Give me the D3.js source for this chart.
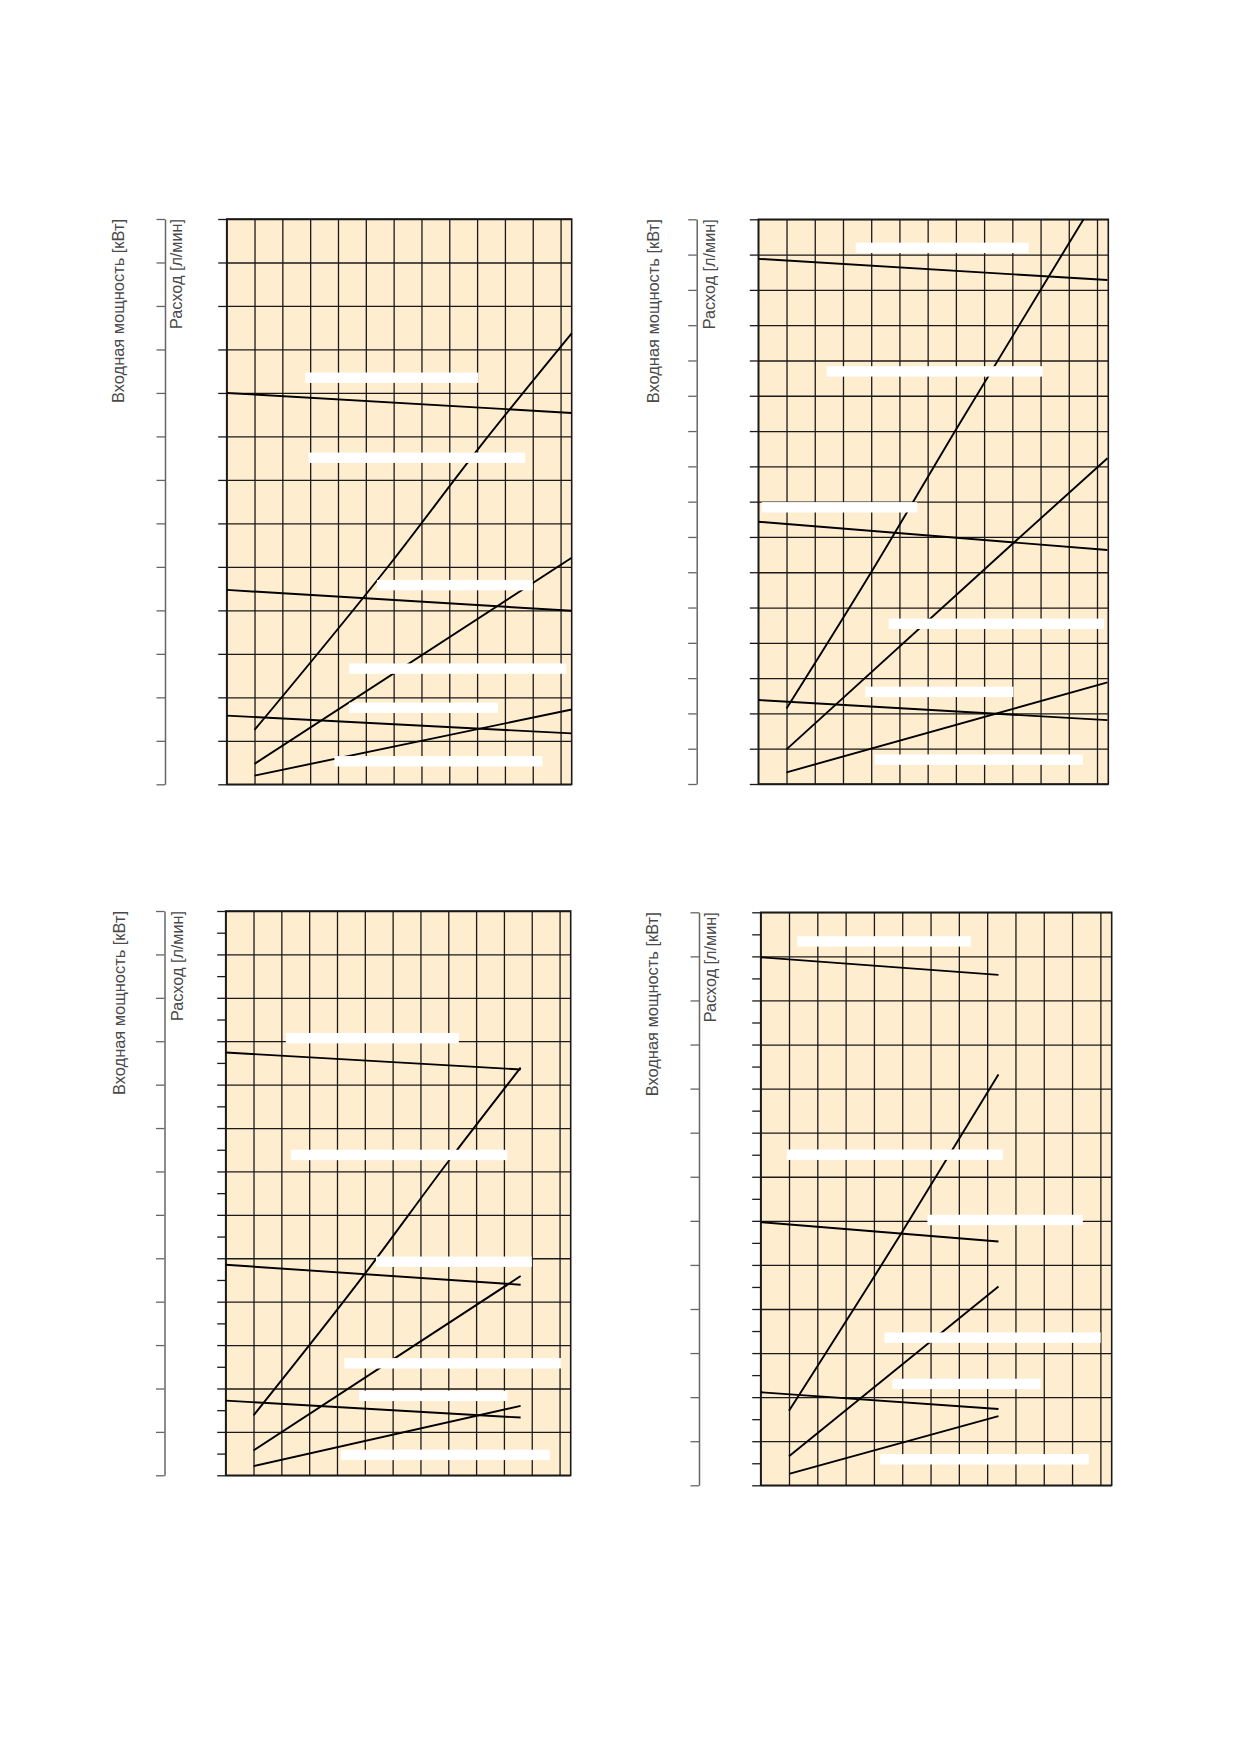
<!DOCTYPE html>
<html>
<head>
<meta charset="utf-8">
<script src="https://cdnjs.cloudflare.com/ajax/libs/d3/7.8.5/d3.min.js"></script>
<style>
  body { margin: 0; background: #fff; }
  text { font-family: "Liberation Sans", Arial, sans-serif; }
</style>
</head>
<body>
<div id="content-area"></div>
<script>
// x grid: one line per unit, the last column is cut short
const xTicks = d3.range(0, 13);
const xMax = 12.4;

// number of grid rows in each panel
const topLeftRows = 13;
const topRightRows = 16;
const bottomLeftRows = 13;
const bottomRightRows = 13;

// axis titles
const powerLabel = "Входная мощность [кВт]";
const flowLabel = "Расход [л/мин]";

// curves, [x, y] in grid units
const topLeftLines = [
    [[0, 9.0], [12.4, 8.54]],
    [[1, 1.25], [6, 5.17], [9, 7.68], [12.4, 10.37]],
    [[0, 4.47], [12.4, 3.99]],
    [[1, 0.47], [12.4, 5.21]],
    [[0, 1.58], [12.4, 1.17]],
    [[1, 0.2], [12.4, 1.72]]
];
const topRightLines = [
    [[0, 14.88], [12.37, 14.28]],
    [[1, 2.14], [4, 6.0], [7, 10.04], [11.52, 16]],
    [[0, 7.43], [12.37, 6.63]],
    [[1, 0.98], [9, 6.8], [12.37, 9.23]],
    [[0, 2.38], [12.37, 1.81]],
    [[1, 0.33], [12.37, 2.88]]
];
const bottomLeftLines = [
    [[0, 9.74], [10.6, 9.35]],
    [[1, 1.38], [5, 4.64], [8, 7.23], [10.6, 9.39]],
    [[0, 4.85], [10.6, 4.39]],
    [[1, 0.57], [10.6, 4.59]],
    [[0, 1.72], [10.6, 1.33]],
    [[1, 0.21], [10.6, 1.6]]
];
const bottomRightLines = [
    [[0, 11.98], [8.4, 11.58]],
    [[1, 1.69], [5, 5.75], [8.4, 9.32]],
    [[0, 5.97], [8.4, 5.53]],
    [[1, 0.66], [8.4, 4.51]],
    [[0, 2.11], [8.4, 1.73]],
    [[1, 0.26], [8.4, 1.57]]
];

// blanked-out label strips: [x from, x to, y]
const topLeftStrips = [
    [2.82, 9.05, 9.35], [2.94, 10.73, 7.51], [5.4, 11.0, 4.58],
    [4.4, 12.2, 2.66], [4.4, 9.75, 1.76], [3.87, 11.35, 0.53]
];
const topRightStrips = [
    [3.45, 9.58, 15.19], [2.42, 10.07, 11.69], [0.12, 5.63, 7.84],
    [4.62, 12.25, 4.54], [3.79, 9.04, 2.61], [4.12, 11.5, 0.69]
];
const bottomLeftStrips = [
    [2.16, 8.38, 10.07], [2.34, 10.12, 7.38], [5.4, 11.0, 4.92],
    [4.26, 12.05, 2.58], [4.8, 10.13, 1.83], [4.14, 11.65, 0.47]
];
const bottomRightStrips = [
    [1.29, 7.42, 12.34], [0.92, 8.55, 7.5], [5.89, 11.38, 6.02],
    [4.37, 12.01, 3.35], [4.65, 9.89, 2.3], [4.22, 11.59, 0.59]
];

function init() {
    const w = 1239;
    const h = 1752;

    const svg = d3.select("#content-area")
                    .append("svg")
                    .attr("width", w)
                    .attr("height", h);

    // panel layout
    const panels = [
        { left: 226.7, top: 219, right: 571.7, bottom: 784.3, axisX: 165, t1: 124.2, t2: 182.2,
          rows: topLeftRows, minor: false, lines: topLeftLines, strips: topLeftStrips },
        { left: 758.3, top: 219.3, right: 1108.3, bottom: 784, axisX: 696.7, t1: 658.8, t2: 714.8,
          rows: topRightRows, minor: false, lines: topRightLines, strips: topRightStrips },
        { left: 225.7, top: 911, right: 570.7, bottom: 1475.3, axisX: 164.5, t1: 124.8, t2: 182.5,
          rows: bottomLeftRows, minor: true, lines: bottomLeftLines, strips: bottomLeftStrips },
        { left: 760.7, top: 912.3, right: 1111.7, bottom: 1485.3, axisX: 699, t1: 658.2, t2: 715.5,
          rows: bottomRightRows, minor: true, lines: bottomRightLines, strips: bottomRightStrips }
    ];

    panels.forEach(function(p) {
        drawPanel(p);
    });

    function drawPanel(p) {
        const pw = p.right - p.left;
        const ph = p.bottom - p.top;

        const x = d3.scaleLinear().domain([0, xMax]).range([p.left, p.right]);
        const y = d3.scaleLinear().domain([0, p.rows]).range([p.bottom, p.top]);
        const rowTicks = d3.range(0, p.rows + 1);

        // plot background
        svg.append("rect")
            .attr("x", p.left)
            .attr("y", p.top)
            .attr("width", pw)
            .attr("height", ph)
            .attr("fill", "#ffedcf");

        // vertical grid
        const gx = svg.append("g")
            .attr("transform", "translate(0," + p.bottom + ")")
            .call(d3.axisBottom(x).tickValues(xTicks).tickSize(-ph).tickSizeOuter(0).tickFormat(""));
        gx.select(".domain").remove();

        // horizontal grid, poking out on the left as ticks
        const gy = svg.append("g")
            .attr("transform", "translate(" + p.left + ",0)")
            .call(d3.axisRight(y).tickValues(rowTicks).tickSize(pw).tickSizeOuter(0).tickFormat(""));
        gy.select(".domain").remove();

        const gyTicks = svg.append("g")
            .attr("transform", "translate(" + p.left + ",0)")
            .call(d3.axisLeft(y).tickValues(p.minor ? d3.range(0, p.rows + 0.01, 0.5) : rowTicks)
                .tickSize(8.5).tickSizeOuter(0).tickFormat(""));
        gyTicks.select(".domain").remove();

        [gx, gy, gyTicks].forEach(function(g) {
            g.selectAll("line").attr("stroke", "#1a1a1a").attr("stroke-width", 1.3);
        });

        // frame
        svg.append("rect")
            .attr("x", p.left)
            .attr("y", p.top)
            .attr("width", pw)
            .attr("height", ph)
            .attr("fill", "none")
            .attr("stroke", "#1a1a1a")
            .attr("stroke-width", 1.6);

        // outer power axis
        const ga = svg.append("g")
            .attr("transform", "translate(" + p.axisX + ",0)")
            .call(d3.axisLeft(y).tickValues(rowTicks).tickSize(8.5).tickSizeOuter(0).tickFormat(""));
        ga.select(".domain").attr("stroke", "#666").attr("stroke-width", 1.5);
        ga.selectAll("line").attr("stroke", "#666").attr("stroke-width", 1.3);

        // curves
        const line = d3.line()
            .curve(d3.curveMonotoneX)
            .x(function(d) { return x(d[0]); })
            .y(function(d) { return y(d[1]); });

        svg.append("g")
            .selectAll("path")
            .data(p.lines)
            .enter()
            .append("path")
            .attr("d", line)
            .attr("fill", "none")
            .attr("stroke", "#000")
            .attr("stroke-width", 1.9);

        // white label strips
        svg.append("g")
            .selectAll("rect")
            .data(p.strips)
            .enter()
            .append("rect")
            .attr("x", function(d) { return x(d[0]); })
            .attr("y", function(d) { return y(d[2]) - 5.2; })
            .attr("width", function(d) { return x(d[1]) - x(d[0]); })
            .attr("height", 10.4)
            .attr("fill", "#fff");

        // axis titles
        svg.append("text")
            .attr("transform", "translate(" + p.t1 + "," + p.top + ") rotate(-90)")
            .attr("text-anchor", "end")
            .attr("font-size", "16px")
            .attr("textLength", 184)
            .attr("lengthAdjust", "spacingAndGlyphs")
            .attr("fill", "#4a4a4a")
            .text(powerLabel);

        svg.append("text")
            .attr("transform", "translate(" + p.t2 + "," + p.top + ") rotate(-90)")
            .attr("text-anchor", "end")
            .attr("font-size", "16px")
            .attr("textLength", 110)
            .attr("lengthAdjust", "spacingAndGlyphs")
            .attr("fill", "#4a4a4a")
            .text(flowLabel);
    }
}

window.onload = init;
</script>
</body>
</html>
